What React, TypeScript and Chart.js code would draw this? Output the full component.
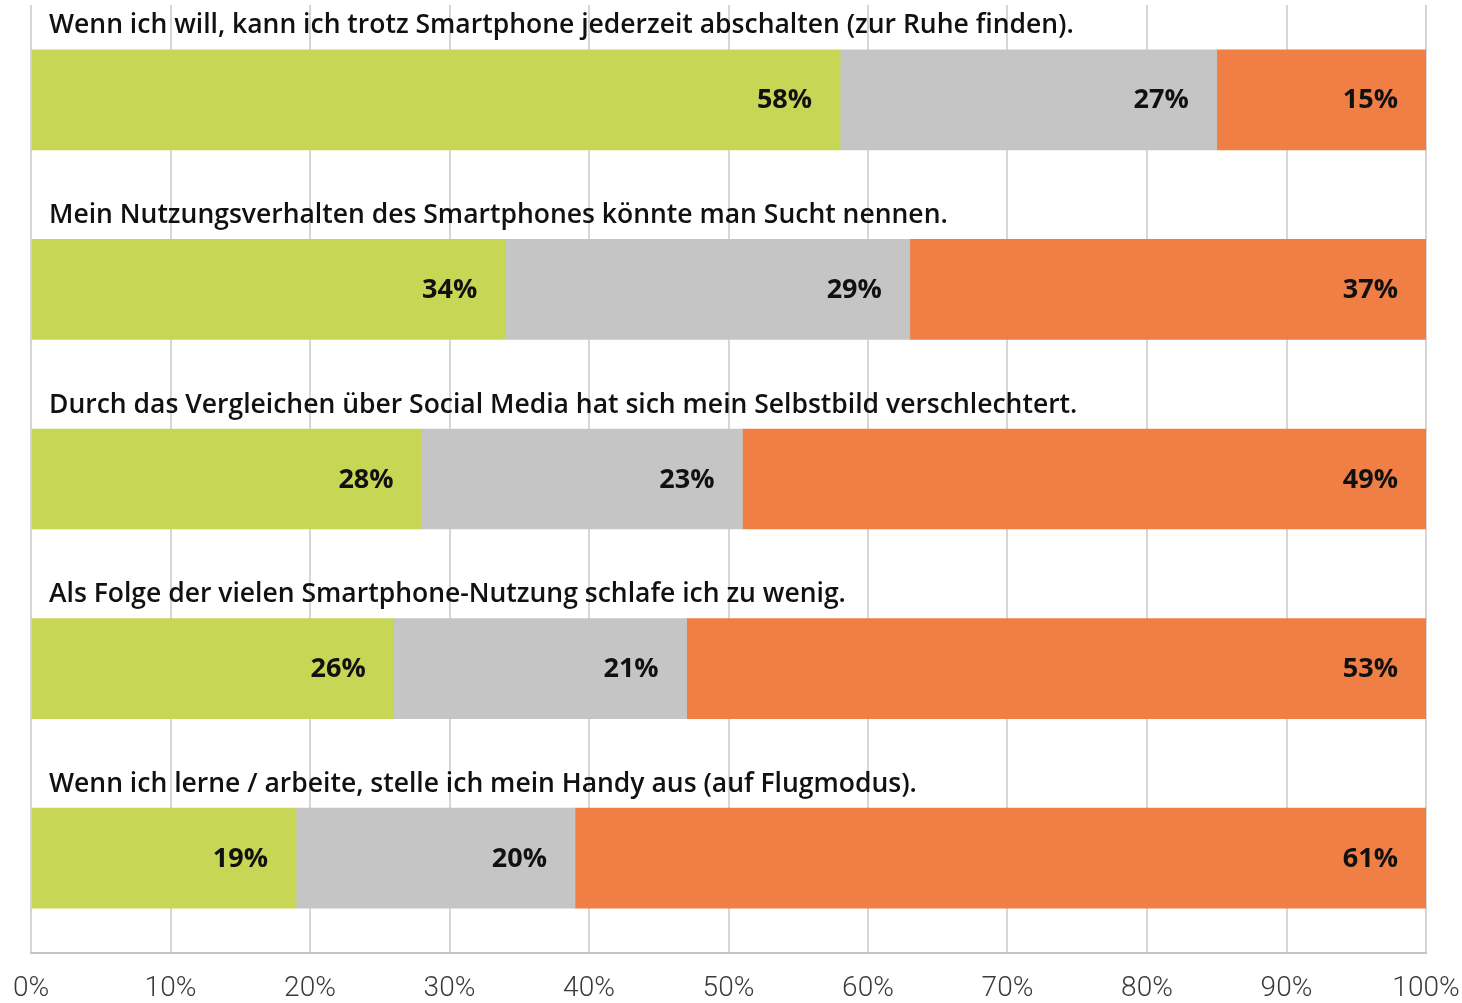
import React, { useEffect, useRef } from "react";
import { Chart, registerables } from "chart.js";

Chart.register(...registerables);

const questions = [
  "Wenn ich will, kann ich trotz Smartphone jederzeit abschalten (zur Ruhe finden).",
  "Mein Nutzungsverhalten des Smartphones könnte man Sucht nennen.",
  "Durch das Vergleichen über Social Media hat sich mein Selbstbild verschlechtert.",
  "Als Folge der vielen Smartphone-Nutzung schlafe ich zu wenig.",
  "Wenn ich lerne / arbeite, stelle ich mein Handy aus (auf Flugmodus).",
];
const agreeValues = [58, 34, 28, 26, 19];
const neutralValues = [27, 29, 23, 21, 20];
const disagreeValues = [15, 37, 49, 53, 61];
const tickValues = [0, 10, 20, 30, 40, 50, 60, 70, 80, 90, 100];

const seriesColors = ["#c8d655", "#c5c5c5", "#ef7f45"];

const labelFont = "600 26.5px 'Open Sans', sans-serif";
const valueFont = "bold 27px 'Open Sans', sans-serif";

const labelPlugin = {
  id: "labels",
  afterDatasetsDraw(chart: any) {
    const ctx = chart.ctx;
    const area = chart.chartArea;
    ctx.save();
    const meta0 = chart.getDatasetMeta(0);
    ctx.font = labelFont;
    ctx.fillStyle = "#111";
    ctx.textAlign = "left";
    ctx.textBaseline = "middle";
    meta0.data.forEach((el: any, i: number) => {
      const top = el.y - el.height / 2;
      ctx.fillText(questions[i], area.left + 18, top - 24);
    });
    ctx.font = valueFont;
    ctx.textAlign = "right";
    chart.data.datasets.forEach((ds: any, di: number) => {
      const meta = chart.getDatasetMeta(di);
      meta.data.forEach((el: any, i: number) => {
        ctx.fillText(ds.data[i] + "%", el.x - 28, el.y + 1);
      });
    });
    ctx.restore();
  },
};

export default function App() {
  const ref = useRef<HTMLCanvasElement>(null);
  useEffect(() => {
    document.body.style.margin = "0";
    const chart = new Chart(ref.current!, {
      type: "bar",
      data: {
        labels: questions,
        datasets: [
          { label: "Zustimmung", data: agreeValues, backgroundColor: seriesColors[0] },
          { label: "Teils", data: neutralValues, backgroundColor: seriesColors[1] },
          { label: "Ablehnung", data: disagreeValues, backgroundColor: seriesColors[2] },
        ],
      },
      options: {
        indexAxis: "y",
        animation: false,
        responsive: false,
        maintainAspectRatio: false,
        layout: { padding: { left: 31, right: 36, top: 5, bottom: 0 } },
        datasets: { bar: { barThickness: 100 } },
        plugins: { legend: { display: false }, tooltip: { enabled: false } },
        scales: {
          x: {
            stacked: true,
            min: 0,
            max: 100,
            afterBuildTicks: (axis: any) => {
              axis.ticks = tickValues.map((v) => ({ value: v }));
            },
            afterFit: (scale: any) => {
              scale.height = 50;
              scale.paddingLeft = 0;
              scale.paddingRight = 0;
            },
            grid: { color: "#d6d6d6", lineWidth: 2, drawTicks: false },
            border: { color: "#c4c4c4", width: 2 },
            ticks: {
              padding: 22,
              color: "#3a3a3a",
              font: { family: "Roboto", weight: "300", size: 28, lineHeight: 1 },
              callback: (v: any) => v + "%",
              maxRotation: 0,
            },
          },
          y: {
            stacked: true,
            display: false,
          },
        },
      },
      plugins: [labelPlugin],
    } as any);
    return () => chart.destroy();
  }, []);
  return (
    <div style={{ position: "fixed", left: 0, top: 0, width: 1462, height: 1003, background: "#fff" }}>
      <canvas ref={ref} width={1462} height={1003} style={{ width: 1462, height: 1003 }} />
    </div>
  );
}
